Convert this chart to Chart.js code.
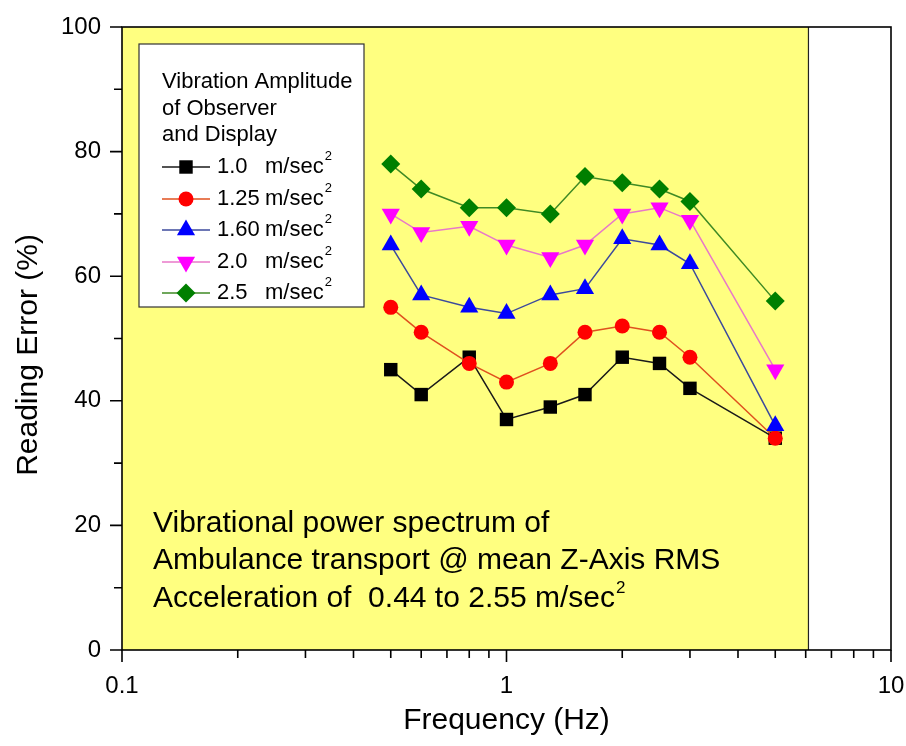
<!DOCTYPE html>
<html>
<head>
<meta charset="utf-8">
<script src="https://cdn.jsdelivr.net/npm/chart.js@4.4.1/dist/chart.umd.min.js"></script>
<style>
  html, body { margin: 0; padding: 0; background: #ffffff; }
  #wrap { width: 906px; height: 746px; }
</style>
</head>
<body>
<div id="wrap"><canvas id="myChart" width="906" height="746"></canvas></div>
<script>
// Data
var frequencies = [0.5, 0.6, 0.8, 1.0, 1.3, 1.6, 2.0, 2.5, 3.0, 5.0];
var amp100 = [45, 41, 47, 37, 39, 41, 47, 46, 42, 34];
var amp125 = [55, 51, 46, 43, 46, 51, 52, 51, 47, 34];
var amp160 = [65, 57, 55, 54, 57, 58, 66, 65, 62, 36];
var amp200 = [70, 67, 68, 65, 63, 65, 70, 71, 69, 45];
var amp250 = [78, 74, 71, 71, 70, 76, 75, 74, 72, 56];

var seriesNumbers = ['1.0', '1.25', '1.60', '2.0', '2.5'];
var xTickValues = [0.1, 0.2, 0.3, 0.4, 0.5, 0.6, 0.7, 0.8, 0.9, 1, 2, 3, 4, 5, 6, 7, 8, 9, 10];
var xTickLabels = { 0.1: '0.1', 1: '1', 10: '10' };
var yTickValues = [0, 10, 20, 30, 40, 50, 60, 70, 80, 90, 100];
var shadeEnd = 6.1; // right edge of the yellow band (Hz)

var legendTitle = ['Vibration Amplitude', 'of Observer', 'and Display'];
var annotationLines = [
    'Vibrational power spectrum of',
    'Ambulance transport @ mean Z-Axis RMS',
    'Acceleration of  0.44 to 2.55 m/sec'
];

var FONT = '"Liberation Sans", Arial, Helvetica, sans-serif';

function pts(ys) {
    return frequencies.map(function (f, i) { return { x: f, y: ys[i] }; });
}

var styles = [
    { line: '#1a1a1a', fill: '#000000', shape: 'rect', radius: 9.5, rot: 0 },
    { line: '#e0501e', fill: '#ff0000', shape: 'circle', radius: 7.5, rot: 0 },
    { line: '#3c4a9c', fill: '#0000ff', shape: 'triangle', radius: 10.5, rot: 0 },
    { line: '#e878c8', fill: '#ff00ff', shape: 'triangle', radius: 10.5, rot: 180 },
    { line: '#3f8a24', fill: '#007f00', shape: 'rectRot', radius: 9.5, rot: 0 }
];
var allSeries = [amp100, amp125, amp160, amp200, amp250];

var datasets = allSeries.map(function (ys, i) {
    var s = styles[i];
    return {
        label: seriesNumbers[i] + ' m/sec\u00b2',
        data: pts(ys),
        borderColor: s.line,
        borderWidth: 1.5,
        backgroundColor: s.fill,
        pointBackgroundColor: s.fill,
        pointBorderColor: s.fill,
        pointBorderWidth: 0,
        pointStyle: s.shape,
        pointRotation: s.rot,
        pointRadius: s.radius,
        pointHoverRadius: s.radius,
        tension: 0,
        order: 5 - i
    };
});

function drawMarker(ctx, s, x, y) {
    ctx.save();
    ctx.fillStyle = s.fill;
    ctx.strokeStyle = s.fill;
    ctx.lineWidth = 0;
    Chart.helpers.drawPoint(ctx, { pointStyle: s.shape, radius: s.radius, rotation: s.rot, borderWidth: 0 }, x, y);
    ctx.restore();
}

// yellow band, frame, ticks, texts, legend
var backgroundPlugin = {
    id: 'band',
    beforeDatasetsDraw: function (chart) {
        var ctx = chart.ctx, a = chart.chartArea, x = chart.scales.x;
        var xe = x.getPixelForValue(shadeEnd);
        ctx.save();
        ctx.fillStyle = '#ffff80';
        ctx.fillRect(a.left, a.top, xe - a.left, a.bottom - a.top);
        ctx.strokeStyle = '#222';
        ctx.lineWidth = 1.2;
        ctx.beginPath();
        ctx.moveTo(xe, a.top);
        ctx.lineTo(xe, a.bottom);
        ctx.stroke();
        ctx.restore();
    },
    afterDatasetsDraw: function (chart) {
        var ctx = chart.ctx, a = chart.chartArea;
        var xs = chart.scales.x, ys = chart.scales.y;
        ctx.save();
        ctx.strokeStyle = '#000';
        ctx.lineWidth = 1.6;
        ctx.strokeRect(a.left, a.top, a.right - a.left, a.bottom - a.top);
        ctx.beginPath();
        xTickValues.forEach(function (v) {
            var p = xs.getPixelForValue(v);
            var len = xTickLabels[v] ? 12 : 8;
            ctx.moveTo(p, a.bottom);
            ctx.lineTo(p, a.bottom + len);
        });
        yTickValues.forEach(function (v) {
            var p = ys.getPixelForValue(v);
            var len = v % 20 === 0 ? 12 : 8;
            ctx.moveTo(a.left, p);
            ctx.lineTo(a.left - len, p);
        });
        ctx.stroke();

        // axis titles
        ctx.fillStyle = '#000';
        ctx.textAlign = 'center';
        ctx.textBaseline = 'middle';
        ctx.font = '30px ' + FONT;
        ctx.fillText('Frequency (Hz)', (a.left + a.right) / 2, 721);
        ctx.save();
        ctx.translate(29, 355);
        ctx.rotate(-Math.PI / 2);
        ctx.fillText('Reading Error (%)', 0, 0);
        ctx.restore();

        // annotation text
        ctx.textBaseline = 'alphabetic';
        ctx.textAlign = 'left';
        ctx.font = '30px ' + FONT;
        var bases = [532, 569, 607];
        annotationLines.forEach(function (t, i) {
            ctx.fillText(t, 153, bases[i]);
        });
        var w = ctx.measureText(annotationLines[2]).width;
        ctx.font = '17px ' + FONT;
        ctx.fillText('2', 153 + w + 1, bases[2] - 14);

        // legend box
        var bx = 139, by = 44, bw = 225, bh = 263;
        ctx.fillStyle = '#ffffff';
        ctx.fillRect(bx, by, bw, bh);
        ctx.strokeStyle = '#333';
        ctx.lineWidth = 1.2;
        ctx.strokeRect(bx, by, bw, bh);
        ctx.fillStyle = '#000';
        ctx.font = '22px ' + FONT;
        ctx.textBaseline = 'middle';
        legendTitle.forEach(function (t, i) {
            ctx.fillText(t, 162, 82 + i * 26.5);
        });
        var rows = [167, 199, 230, 262, 293];
        rows.forEach(function (ry, i) {
            var s = styles[i];
            ctx.strokeStyle = s.line;
            ctx.lineWidth = 1.5;
            ctx.beginPath();
            ctx.moveTo(162, ry);
            ctx.lineTo(210, ry);
            ctx.stroke();
            drawMarker(ctx, s, 186, ry);
            ctx.fillStyle = '#000';
            ctx.font = '22px ' + FONT;
            ctx.fillText(seriesNumbers[i], 217, ry);
            ctx.fillText('m/sec', 265, ry);
            var mw = ctx.measureText('m/sec').width;
            ctx.font = '13px ' + FONT;
            ctx.fillText('2', 265 + mw + 1, ry - 11);
        });
        ctx.restore();
    }
};

var ctx = document.getElementById('myChart').getContext('2d');
var myChart = new Chart(ctx, {
    type: 'line',
    data: { datasets: datasets },
    options: {
        responsive: false,
        animation: false,
        events: [],
        layout: { padding: { left: 0, top: 27, right: 15, bottom: 0 } },
        plugins: {
            legend: { display: false },
            tooltip: { enabled: false }
        },
        scales: {
            x: {
                type: 'logarithmic',
                min: 0.1,
                max: 10,
                afterBuildTicks: function (scale) {
                    scale.ticks = xTickValues.map(function (v) { return { value: v }; });
                },
                afterFit: function (scale) {
                    scale.height = 96;
                    scale.paddingLeft = 0;
                    scale.paddingRight = 0;
                },
                grid: { display: true, drawOnChartArea: false, drawTicks: true, tickLength: 12, tickColor: 'rgba(0,0,0,0)', color: 'rgba(0,0,0,0)' },
                border: { display: false },
                ticks: {
                    autoSkip: false,
                    maxRotation: 0,
                    padding: 10,
                    color: '#000',
                    font: { family: FONT, size: 24 },
                    callback: function (v) { return xTickLabels[v] || ''; }
                }
            },
            y: {
                type: 'linear',
                min: 0,
                max: 100,
                afterBuildTicks: function (scale) {
                    scale.ticks = yTickValues.map(function (v) { return { value: v }; });
                },
                afterFit: function (scale) {
                    scale.width = 122;
                    scale.paddingTop = 0;
                    scale.paddingBottom = 0;
                },
                grid: { display: true, drawOnChartArea: false, drawTicks: true, tickLength: 12, tickColor: 'rgba(0,0,0,0)', color: 'rgba(0,0,0,0)' },
                border: { display: false },
                ticks: {
                    autoSkip: false,
                    padding: 9,
                    color: '#000',
                    font: { family: FONT, size: 24 },
                    callback: function (v) { return v % 20 === 0 ? String(v) : ''; }
                }
            }
        }
    },
    plugins: [backgroundPlugin]
});
</script>
</body>
</html>
